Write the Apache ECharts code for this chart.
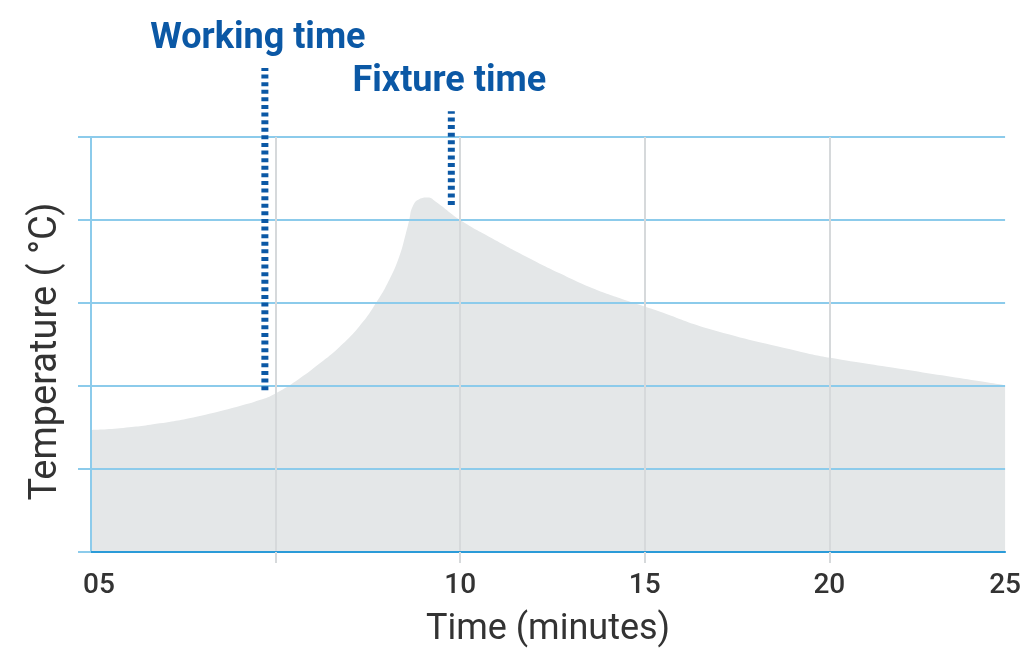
<!DOCTYPE html>
<html>
<head>
<meta charset="utf-8">
<title>Temperature vs time</title>
<script src="https://cdn.jsdelivr.net/npm/echarts@6/dist/echarts.min.js"></script>
<style>
  html, body { margin: 0; padding: 0; background: #fff; }
  #chart { width: 1024px; height: 659px; }
</style>
</head>
<body>
<div id="chart"></div>
<script>
// temperature curve (minutes, relative temperature)
const curveTime = [0, 0.78, 1.86, 2.95, 4.03, 4.57, 5.0, 5.65, 6.19, 6.73, 7.27, 7.72, 8.08, 8.35, 8.53, 8.62, 8.71, 8.89, 9.12, 9.34, 10.0, 10.86, 11.78, 12.68, 13.57, 14.57, 15.38, 16.73, 19.16, 20.03, 21.86, 24.76]
const curveTemp = [1.47, 1.49, 1.55, 1.64, 1.76, 1.83, 1.91, 2.09, 2.27, 2.47, 2.72, 3.0, 3.28, 3.56, 3.84, 4.0, 4.16, 4.25, 4.27, 4.22, 4.0, 3.78, 3.56, 3.36, 3.18, 3.02, 2.90, 2.69, 2.42, 2.34, 2.21, 2.01]

// annotation markers: [time, bottom, top]
const markerNames = ['Working time', 'Fixture time']
const markerTime = [4.71, 9.76]
const markerBottom = [1.95, 4.18]
const markerTop = [5.83, 5.31]

const xMax = 24.76
const xGridTicks = [5, 10, 15, 20]
const xLabelValues = [0, 10, 15, 20, xMax]
const xLabelText = ['05', '10', '15', '20', '25']

const font = 'Roboto, "Noto Sans", sans-serif'
const markerBlue = '#0b58a5'

const markerSeries = markerNames.map((name, i) => ({
    type: 'line',
    name: name,
    clip: false,
    symbol: 'circle',
    symbolSize: 0,
    showSymbol: true,
    silent: true,
    z: 5,
    lineStyle: { color: markerBlue, width: 7, type: [4, 3.6], cap: 'butt' },
    label: { show: false },
    data: [
        [markerTime[i], markerBottom[i]],
        {
            value: [markerTime[i], markerTop[i]],
            label: {
                show: true,
                position: 'top',
                distance: 11,
                offset: i === 0 ? [-7, 0] : [-2, 0],
                formatter: name,
                color: markerBlue,
                fontFamily: font,
                fontWeight: 'bold',
                fontSize: 36
            }
        }
    ]
}))

const chart = echarts.init(document.getElementById('chart'))
chart.setOption({
    animation: false,
    grid: { left: 91, right: 17, top: 137, bottom: 107, containLabel: false },
    xAxis: {
        type: 'value',
        min: 0,
        max: xMax,
        interval: 5,
        z: 3,
        name: 'Time (minutes)',
        nameLocation: 'middle',
        nameGap: 60,
        nameTextStyle: { color: '#333', fontSize: 36, fontFamily: font },
        axisLine: { lineStyle: { color: '#2b9bd8', width: 2 } },
        axisTick: {
            show: true,
            customValues: xGridTicks,
            length: 11,
            lineStyle: { color: '#d6d9db', width: 2 }
        },
        axisLabel: {
            customValues: xLabelValues,
            margin: 20,
            color: '#333',
            fontSize: 28,
            fontWeight: 500,
            fontFamily: font,
            formatter: v => {
                const k = xLabelValues.indexOf(v)
                if (k === 0) return '{first|' + xLabelText[k] + '}'
                return k >= 0 ? xLabelText[k] : ''
            },
            rich: {
                first: { color: '#333', fontSize: 28, fontWeight: 500, fontFamily: font, padding: [0, 0, 0, 16] }
            }
        },
        splitLine: {
            show: true,
            lineStyle: { color: '#d6d9db', width: 2 }
        }
    },
    yAxis: {
        type: 'value',
        min: 0,
        max: 5,
        interval: 1,
        z: 3,
        name: 'Temperature ( °C)',
        nameLocation: 'middle',
        nameGap: 26,
        nameTextStyle: { color: '#333', fontSize: 38, fontFamily: font, padding: [0, 14, 0, 0] },
        axisLine: { show: true, lineStyle: { color: '#8ccbeb', width: 2 } },
        axisTick: { show: true, length: 13, lineStyle: { color: '#8ccbeb', width: 2 } },
        axisLabel: { show: false },
        splitLine: {
            show: true,
            showMinLine: false,
            lineStyle: { color: '#8ccbeb', width: 2 }
        }
    },
    series: [
        {
            type: 'line',
            name: 'Temperature',
            smooth: 0.5,
            symbol: 'none',
            silent: true,
            z: 1,
            lineStyle: { width: 0 },
            areaStyle: { color: '#e4e7e8', opacity: 1 },
            data: curveTime.map((t, i) => [t, curveTemp[i]])
        },
        ...markerSeries
    ]
})
</script>
</body>
</html>
